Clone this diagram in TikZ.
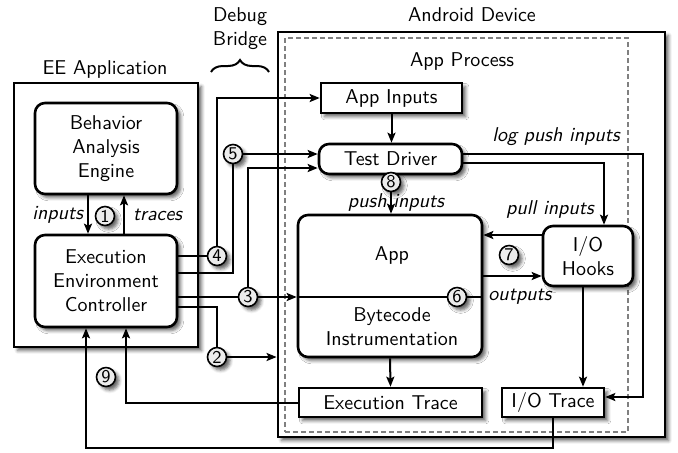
\documentclass[tikz,border=0pt]{standalone}
\usepackage{tikz}
\usetikzlibrary{calc,arrows.meta,shadows.blur,decorations.pathreplacing}

\tikzset{
  shade/.style={blur shadow={shadow xshift=1.8pt,shadow yshift=-1.8pt,shadow blur radius=1.6pt,shadow opacity=60}},
  box/.style={draw,line width=1.3pt,fill=white,inner sep=0pt,align=center,shade},
  rbox/.style={box,rounded corners=5pt},
  frame/.style={box,line width=1.4pt},
  num/.style={circle,draw,line width=0.8pt,fill=gray!15,inner sep=0pt,minimum size=9.5pt,font=\sffamily\small,shade},
  flow/.style={line width=1pt,-{Stealth[length=5pt,width=4pt,inset=1pt]}},
  lbl/.style={font=\sffamily\itshape,inner sep=0pt},
}

\begin{document}
\begin{tikzpicture}[x=0.5pt,y=-0.5pt,every node/.style={font=\sffamily}]
  \useasboundingbox (0,0) rectangle (678,452);

  % outer frames
  \node (eetitle) at (105,69) {EE Application};
  \node[frame,minimum width=92pt,minimum height=132pt] (eeapp) at (106,215) {};
  \node (devtitle) at (472,15) {Android Device};
  \node[frame,minimum width=193.5pt,minimum height=202.5pt] (device) at (471.5,234.5) {};
  \node[draw=gray,dash pattern=on 2.5pt off 1.5pt,line width=0.6pt,inner sep=0pt,
        minimum width=171.5pt,minimum height=197pt] (process) at (456.5,235) {};
  \node (proctitle) at (462,61) {App Process};
  \node[align=center] (bridge) at (240,29) {Debug\\Bridge};
  \draw[decorate,decoration={brace,amplitude=6pt},line width=1pt] (211,72) -- (269,72);

  % EE side
  \node[rbox,minimum width=71pt,minimum height=45.5pt] (bae) at (106,148.5) {Behavior\\Analysis\\Engine};
  \node[rbox,minimum width=71pt,minimum height=46pt] (eec) at (106,281) {Execution\\Environment\\Controller};

  % device side
  \node[box,minimum width=70.5pt,minimum height=15pt] (appin) at (391.5,98) {App Inputs};
  \node[rbox,minimum width=71.5pt,minimum height=15pt] (driver) at (390.5,159) {Test Driver};
  \node[rbox,minimum width=92pt,minimum height=71pt] (app) at (390,286) {};
  \node (apptxt) at (392,255) {App};
  \node[align=center] (bytecode) at (392,327) {Bytecode\\Instrumentation};
  \node[rbox,minimum width=45pt,minimum height=30pt] (hooks) at (588,256) {I/O\\Hooks};
  \node[box,minimum width=91.5pt,minimum height=14.5pt] (extrace) at (390.5,402.5) {Execution Trace};
  \node[box,minimum width=51pt,minimum height=14.5pt] (iotrace) at (553,402.5) {I/O Trace};

  \node[num] (n1) at (105,216) {1};
  \node[num] (n2) at (217,357) {2};
  \node[num] (n3) at (248,297) {3};
  \node[num] (n4) at (217,256) {4};
  \node[num] (n5) at (233,154) {5};
  \node[num] (n6) at (457,297) {6};
  \node[num] (n7) at (509,255) {7};
  \node[num] (n8) at (391,182) {8};
  \node[num] (n9) at (106,377) {9};

  % engine <-> controller
  \draw[flow] ([xshift=-9pt]bae.south) -- node[lbl,left=2pt] (inlbl) {inputs} ([xshift=-9pt]eec.north);
  \draw[flow] ([xshift=9pt]eec.north) -- node[lbl,right=4pt] (trlbl) {traces} ([xshift=9pt]bae.south);

  % over the debug bridge
  \draw[flow] ([yshift=12.5pt]eec.east) -- (n4) |- (appin);
  \draw[flow] ([yshift=4pt]eec.east) -| (n5) -- (n5 -| driver.west);
  \draw[flow] ([yshift=-8pt]eec.east) -- (n3) -- (n3 -| app.west);
  \draw[flow] (n3) |- ([yshift=-4.5pt]driver.west);
  \draw[flow] ([yshift=-13pt]eec.east) -| (n2) -- (n2 -| device.west);

  % inside the app process
  \draw[flow] (appin.south) -- (appin.south |- driver.north);
  \draw[flow] (n8) -- (n8 |- app.north);
  \node[lbl] (pushlbl) at (396,202) {push inputs};
  \draw[line width=1pt] (app.west |- n6) -- (n6) -- (app.east |- n6);

  \coordinate (logturn) at (643,397);
  \draw[flow] ([yshift=2.5pt]driver.east) -| (logturn) -- (logturn -| iotrace.east);
  \node[lbl] (loglbl) at (556,137) {log push inputs};
  \draw[flow] ([yshift=-2pt]driver.east) -| ([xshift=8pt]hooks.north);
  \node[lbl] (pulllbl) at (550,209) {pull inputs};

  \draw[flow] (hooks.west |- 0,235) -- (app.east |- 0,235);
  \draw[flow] (app.east |- 0,276) -- (hooks.west |- 0,276);
  \node[lbl] (outlbl) at (520,297) {outputs};

  \draw[flow] (app.south) -- (extrace.north);
  \draw[flow] (hooks.south -| 583,0) -- (iotrace.north -| 583,0);

  % traces back to the controller
  \draw[flow] (extrace.west) -| ([xshift=10pt]eec.south);
  \coordinate (loop9) at (86,448);
  \draw[flow] (iotrace.south) |- (loop9) -- ([xshift=-10pt]eec.south);
\end{tikzpicture}
\end{document}
